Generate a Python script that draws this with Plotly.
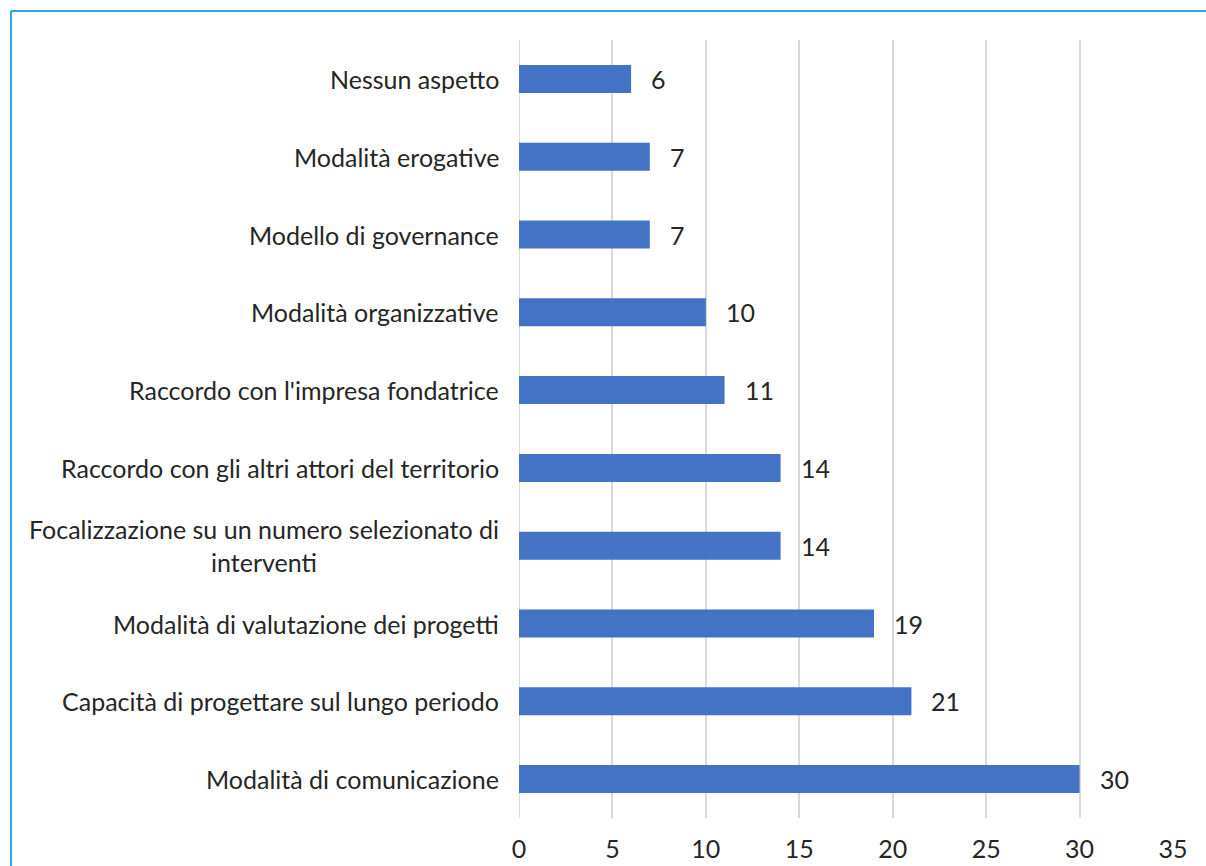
import plotly.graph_objects as go

# Categories listed top to bottom, with their counts
categories = [
    "Nessun aspetto",
    "Modalità erogative",
    "Modello di governance",
    "Modalità organizzative",
    "Raccordo con l'impresa fondatrice",
    "Raccordo con gli altri attori del territorio",
    "Focalizzazione su un numero selezionato di<br>interventi",
    "Modalità di valutazione dei progetti",
    "Capacità di progettare sul lungo periodo",
    "Modalità di comunicazione",
]
values = [6, 7, 7, 10, 11, 14, 14, 19, 21, 30]
x_ticks = [0, 5, 10, 15, 20, 25, 30, 35]

FONT = "Lato"
FONT_SIZE = 25
TEXT_COLOR = "#262626"
BAR_COLOR = "#4472C4"
FRAME_COLOR = "#29A8E0"

# Plot from bottom to top so the first category sits at the top
cats_rev = categories[::-1]
vals_rev = values[::-1]

fig = go.Figure(
    go.Bar(
        x=vals_rev,
        y=cats_rev,
        orientation="h",
        marker=dict(color=BAR_COLOR, line=dict(width=0)),
        hoverinfo="skip",
    )
)

annotations = []
# Category labels (centered lines for wrapped labels)
for c in cats_rev:
    annotations.append(dict(
        x=0, xref="paper", y=c, yref="y",
        text=c, showarrow=False, xanchor="right", yanchor="middle",
        align="center", xshift=-18,
        font=dict(family=FONT, size=FONT_SIZE, color=TEXT_COLOR),
    ))
# Value labels to the right of each bar
for c, v in zip(cats_rev, vals_rev):
    annotations.append(dict(
        x=v, xref="x", y=c, yref="y",
        text=str(v), showarrow=False, xanchor="left", yanchor="middle",
        xshift=18,
        font=dict(family=FONT, size=FONT_SIZE, color=TEXT_COLOR),
    ))

fig.update_layout(
    width=1206,
    height=866,
    margin=dict(l=519, r=33, t=40, b=48, autoexpand=False),
    paper_bgcolor="white",
    plot_bgcolor="white",
    bargap=0.64,
    showlegend=False,
    annotations=annotations,
    font=dict(family=FONT, size=FONT_SIZE, color=TEXT_COLOR),
    xaxis=dict(
        range=[0, 35],
        tickvals=x_ticks,
        showgrid=True,
        gridcolor="#D9D9D9",
        gridwidth=2,
        zeroline=False,
        showline=False,
        ticks="",
        automargin=False,
        ticklabelstandoff=14,
        tickfont=dict(family=FONT, size=FONT_SIZE, color=TEXT_COLOR),
        fixedrange=True,
    ),
    yaxis=dict(
        categoryorder="array",
        categoryarray=cats_rev,
        showticklabels=False,
        showgrid=False,
        zeroline=False,
        showline=False,
        ticks="",
        automargin=False,
        fixedrange=True,
    ),
    shapes=[
        # Light blue frame along the top and left edges
        dict(type="line", xref="paper", yref="paper",
             x0=-0.7768, x1=1.2, y0=1.0373, y1=1.0373,
             line=dict(color=FRAME_COLOR, width=2)),
        dict(type="line", xref="paper", yref="paper",
             x0=-0.7768, x1=-0.7768, y0=1.0373, y1=-0.2,
             line=dict(color=FRAME_COLOR, width=2)),
        # Gridline at zero drawn like the others
        dict(type="line", xref="x", yref="paper",
             x0=0, x1=0, y0=0, y1=1,
             line=dict(color="#D9D9D9", width=2), layer="below"),
    ],
)

fig.write_html("out.html", config={"displayModeBar": False})
